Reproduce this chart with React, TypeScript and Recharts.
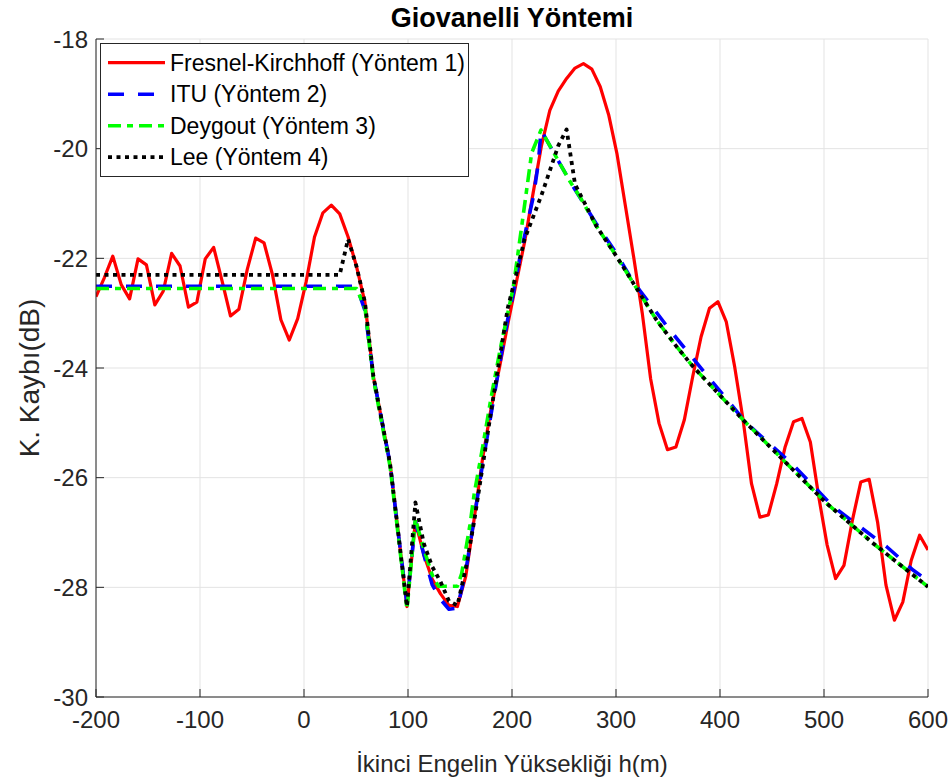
import { CartesianGrid, Line, LineChart, XAxis, YAxis } from "recharts";

const X_TICKS = [-200, -100, 0, 100, 200, 300, 400, 500, 600];
const Y_TICKS = [-30, -28, -26, -24, -22, -20, -18];

// Fresnel-Kirchhoff: 100 samples, evenly spaced over -200..600 m
const FK_DB = [
  -22.7, -22.35, -21.96, -22.48, -22.74, -22.01, -22.12, -22.85, -22.6, -21.91,
  -22.14, -22.89, -22.8, -22.01, -21.8, -22.41, -23.05, -22.93, -22.2, -21.63,
  -21.72, -22.3, -23.12, -23.49, -23.1, -22.43, -21.61, -21.17, -21.03, -21.19,
  -21.61, -22.15, -22.8, -24.15, -24.95, -25.75, -27.05, -28.35, -26.8, -27.4,
  -27.85, -28.12, -28.33, -28.35, -27.8, -26.75, -25.65, -24.75, -24.0, -23.2,
  -22.45, -21.7, -20.82, -19.95, -19.3, -18.95, -18.72, -18.53, -18.45, -18.55,
  -18.87, -19.38, -20.1, -21.05, -22.0, -23.0, -24.2, -25.01, -25.49, -25.44,
  -24.95, -24.16, -23.43, -22.91, -22.79, -23.16, -23.98, -24.95, -26.11, -26.72,
  -26.68, -26.11, -25.44, -24.98, -24.92, -25.35, -26.35, -27.23, -27.84, -27.6,
  -26.78, -26.08, -26.03, -26.81, -27.96, -28.6, -28.27, -27.51, -27.05, -27.32,
];
const FK_H = FK_DB.map((_, i) => -200 + (i * 800) / 99);

// ITU
const ITU_H = [
  -200, 50.5, 58.6, 66.7, 74.7, 82.8, 90.9, 99, 107.1, 115.2, 123.2, 131.3, 139.4,
  147.5, 155.6, 163.6, 171.7, 179.8, 187.9, 196, 201.3, 207.7, 214.1, 220.5, 225.3,
  227.9, 255.8, 281.4, 300.7, 316.6, 351.9, 387.2, 425.7, 470.5, 508.9, 560.3,
  585.9, 600,
];
const ITU_DB = [
  -22.51, -22.51, -22.95, -24.15, -24.95, -25.75, -27.05, -28.3, -26.8, -27.4,
  -27.95, -28.22, -28.4, -28.38, -27.7, -26.75, -25.75, -24.85, -23.95, -23.1,
  -22.64, -21.97, -21.42, -20.88, -20.27, -19.66, -20.6, -21.38, -21.92, -22.43,
  -23.31, -24.13, -25.01, -25.77, -26.53, -27.26, -27.69, -27.88,
];

// Deygout
const DEY_H = [
  -200, 50.5, 58.6, 66.7, 74.7, 82.8, 90.9, 99, 107.1, 115.2, 123.2, 129.2, 147.5,
  151.6, 159.6, 163.6, 171.7, 179.8, 188.5, 201.3, 209.3, 218.9, 227.9, 255.8,
  265.4, 281.4, 300.7, 319.9, 339.1, 358.3, 374.3, 422.4, 464.1, 502.6, 547.4, 600,
];
const DEY_DB = [
  -22.55, -22.55, -22.9, -24.2, -25.0, -25.8, -27.1, -28.4, -26.75, -27.3, -27.77,
  -27.98, -27.98, -27.75, -26.86, -26.3, -25.45, -24.55, -23.67, -22.52, -21.42,
  -20.08, -19.66, -20.6, -20.88, -21.42, -21.97, -22.55, -23.13, -23.61, -23.98,
  -24.95, -25.74, -26.47, -27.2, -27.99,
];

// Lee
const LEE_H = [
  -200, 34.3, 42.4, 50.5, 58.6, 66.7, 74.7, 82.8, 90.9, 99, 107.1, 115.2, 123.2,
  131.3, 139.4, 147.5, 155.6, 163.6, 171.7, 179.8, 187.9, 196, 204, 212.1, 220.2,
  228.3, 236.4, 244.4, 252.5, 260.6, 268.7, 281.4, 300.7, 319.9, 339.1, 358.3,
  374.3, 422.4, 464.1, 502.6, 547.4, 600,
];
const LEE_DB = [
  -22.3, -22.3, -21.65, -22.15, -22.8, -24.15, -24.95, -25.75, -27.05, -28.35,
  -26.45, -27.2, -27.62, -27.9, -28.25, -28.33, -27.65, -26.8, -25.8, -24.8, -23.85,
  -22.9, -22.3, -21.65, -21.25, -20.85, -20.4, -19.95, -19.65, -20.65, -20.95,
  -21.42, -21.97, -22.55, -23.13, -23.61, -23.98, -24.95, -25.74, -26.47, -27.2,
  -27.99,
];

const toPoints = (h: number[], db: number[]) => h.map((x, i) => ({ h: x, db: db[i] }));

const FONT = "'Liberation Sans', Arial, Helvetica, sans-serif";
const AX = "#262626";
const GRID = "#e3e3e3";
const TICK = { fill: AX, fontSize: 24, fontFamily: FONT };

const SERIES = [
  { name: "Fresnel-Kirchhoff (Yöntem 1)", data: toPoints(FK_H, FK_DB), color: "#ff0000", dash: undefined, width: 3.2 },
  { name: "ITU (Yöntem 2)", data: toPoints(ITU_H, ITU_DB), color: "#0000ff", dash: "16 14", width: 3.6 },
  { name: "Deygout (Yöntem 3)", data: toPoints(DEY_H, DEY_DB), color: "#00ff00", dash: "13 6 6 6", width: 3.6 },
  { name: "Lee (Yöntem 4)", data: toPoints(LEE_H, LEE_DB), color: "#000000", dash: "4 4.5", width: 3.8 },
];

export default function App() {
  return (
    <div style={{ position: "absolute", left: 0, top: 0, width: 950, height: 783, background: "#fff" }}>
      <LineChart width={950} height={783} margin={{ top: 39, right: 22, bottom: 46, left: 0 }}>
        <CartesianGrid stroke={GRID} strokeWidth={1} />
        <XAxis
          dataKey="h"
          type="number"
          domain={[-200, 600]}
          ticks={X_TICKS}
          allowDataOverflow
          height={40}
          tickSize={-8}
          tickMargin={22}
          tick={TICK}
          stroke={AX}
          interval={0}
        />
        <XAxis
          xAxisId="top"
          orientation="top"
          type="number"
          domain={[-200, 600]}
          ticks={X_TICKS}
          allowDataOverflow
          height={0}
          tickSize={-8}
          tick={false}
          stroke={AX}
        />
        <YAxis
          type="number"
          domain={[-30, -18]}
          ticks={Y_TICKS}
          allowDataOverflow
          width={96}
          tickSize={-8}
          tickMargin={16}
          tick={TICK}
          stroke={AX}
          interval={0}
        />
        <YAxis
          yAxisId="right"
          orientation="right"
          type="number"
          domain={[-30, -18]}
          ticks={Y_TICKS}
          allowDataOverflow
          width={0}
          tickSize={-8}
          tick={false}
          stroke={AX}
        />
        {SERIES.map((s) => (
          <Line
            key={s.name}
            data={s.data}
            dataKey="db"
            type="linear"
            stroke={s.color}
            strokeWidth={s.width}
            strokeDasharray={s.dash}
            strokeLinejoin="round"
            dot={false}
            activeDot={false}
            isAnimationActive={false}
          />
        ))}
      </LineChart>

      <svg width={950} height={783} style={{ position: "absolute", left: 0, top: 0, pointerEvents: "none" }}>
        <text x={512} y={27} textAnchor="middle" fontFamily={FONT} fontSize={27} fontWeight="bold" fill="#000">
          Giovanelli Yöntemi
        </text>
        <text x={512} y={772} textAnchor="middle" fontFamily={FONT} fontSize={24} fill={AX}>
          İkinci Engelin Yüksekliği h(m)
        </text>
        <text
          x={0}
          y={0}
          transform="translate(39 378) rotate(-90)"
          textAnchor="middle"
          fontFamily={FONT}
          fontSize={28}
          fill={AX}
        >
          K. Kaybı(dB)
        </text>

        <rect x={100.5} y={43.5} width={368} height={133} fill="#fff" stroke={AX} strokeWidth={1} />
        {SERIES.map((s, i) => {
          const yLine = 62.7 + i * 31.5;
          return (
            <g key={s.name}>
              <line
                x1={108}
                x2={165}
                y1={yLine}
                y2={yLine}
                stroke={s.color}
                strokeWidth={s.width}
                strokeDasharray={s.dash}
              />
              <text x={170} y={yLine + 8} fontFamily={FONT} fontSize={23} fill="#000">
                {s.name}
              </text>
            </g>
          );
        })}
      </svg>
    </div>
  );
}
